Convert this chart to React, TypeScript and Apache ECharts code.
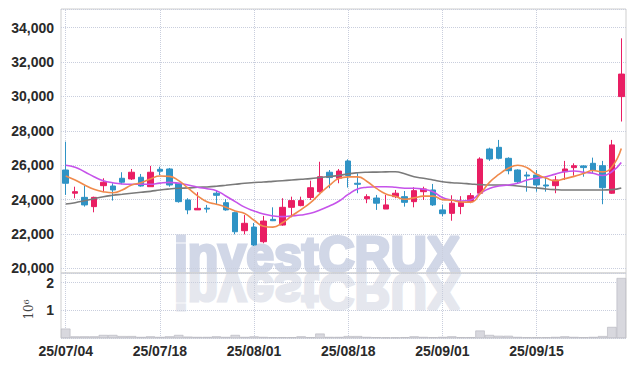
import React, { useEffect, useRef } from "react";
import * as echarts from "echarts";

const dates = [
  "25/07/04", "25/07/07", "25/07/08", "25/07/09", "25/07/10", "25/07/11", "25/07/14", "25/07/15", "25/07/16", "25/07/17",
  "25/07/18", "25/07/21", "25/07/22", "25/07/23", "25/07/24", "25/07/25", "25/07/28", "25/07/29", "25/07/30", "25/07/31",
  "25/08/01", "25/08/04", "25/08/05", "25/08/06", "25/08/07", "25/08/08", "25/08/11", "25/08/12", "25/08/13", "25/08/14",
  "25/08/18", "25/08/19", "25/08/20", "25/08/21", "25/08/22", "25/08/25", "25/08/26", "25/08/27", "25/08/28", "25/08/29",
  "25/09/01", "25/09/02", "25/09/03", "25/09/04", "25/09/05", "25/09/08", "25/09/09", "25/09/10", "25/09/11", "25/09/12",
  "25/09/15", "25/09/16", "25/09/17", "25/09/18", "25/09/19", "25/09/22", "25/09/23", "25/09/24", "25/09/25", "25/09/26",
];

const opens = [
  25720, 24370, 24130, 23590, 24810, 24790, 25240, 25200, 25300, 24750,
  25760, 25780, 24950, 23980, 23400, 23500, 24370, 23820, 23240, 22190,
  22400, 21550, 22850, 22520, 23550, 23650, 24120, 24460, 25590, 25240,
  26245, 24950, 24050, 24090, 23450, 24170, 24170, 23880, 24460, 24560,
  23400, 23200, 23600, 23880, 24370, 26940, 27040, 26400, 25720, 25430,
  25430, 24850, 24810, 25620, 25860, 25960, 26110, 25970, 24370, 29990,
];
const closes = [
  24950, 24460, 23690, 24130, 25010, 24560, 25010, 25590, 24790, 25590,
  25650, 24850, 23880, 23400, 23490, 23450, 24250, 23400, 22130, 22620,
  21360, 22750, 22770, 23550, 23940, 23940, 24690, 25330, 25280, 25660,
  25400, 24890, 24170, 23790, 23690, 24370, 23840, 24520, 24620, 23690,
  23180, 23790, 23850, 24230, 26360, 26360, 26400, 25680, 25040, 25370,
  24850, 24790, 25140, 25780, 25970, 25860, 25720, 24690, 27180, 31300,
];
const lows = [
  24270, 24075, 23590, 23260, 24430, 23940, 24890, 25140, 24750, 24750,
  25430, 24750, 23820, 23150, 23400, 23240, 23740, 23350, 21980, 21980,
  21300, 21460, 22750, 22480, 22970, 23610, 23980, 24400, 24660, 24950,
  24700, 24370, 23790, 23400, 23450, 24080, 23590, 23550, 23980, 23630,
  23030, 22770, 23150, 23790, 24370, 26250, 26340, 25470, 24930, 24460,
  24460, 24460, 24370, 25140, 25390, 25330, 25530, 23730, 24330, 28540,
];
const highs = [
  27370, 24750, 24790, 24170, 25240, 24950, 25590, 25780, 25490, 25960,
  25910, 25840, 24950, 24080, 24430, 23690, 24500, 24020, 23300, 23100,
  22640, 23050, 23550, 24080, 24170, 24170, 25100, 26200, 25720, 25780,
  26340, 25530, 24310, 24270, 24270, 24560, 24500, 24720, 24750, 24910,
  23700, 24250, 24200, 24380, 26460, 27020, 27470, 26460, 25760, 25620,
  25720, 25330, 25370, 26250, 26110, 26000, 26440, 26250, 27470, 33380,
];

const ma5 = [
  25373, 25140, 24850, 24600, 24460, 24400, 24560, 24850, 24983, 25200,
  25370, 25350, 25100, 24660, 24220, 23870, 23730, 23560, 23340, 23190,
  22800, 22450, 22400, 22650, 23050, 23420, 23820, 24350, 24820, 25220,
  25320, 25320, 25050, 24650, 24330, 24190, 24020, 24100, 24200, 24200,
  24000, 23960, 23860, 23850, 24330, 25000, 25460, 25820, 26000, 25850,
  25470, 25250, 25100, 25220, 25350, 25520, 25690, 25610, 25900, 26970,
];
const ma20 = [
  26000, 25880, 25620, 25330, 25100, 24980, 24910, 24890, 24890, 24890,
  24960, 25000, 24950, 24850, 24720, 24630, 24520, 24210, 23880, 23560,
  23340, 23160, 23050, 23010, 23050, 23100, 23200, 23390, 23630, 23900,
  24300, 24620, 24720, 24750, 24750, 24720, 24660, 24660, 24600, 24460,
  24120, 23980, 23920, 23980, 24360, 24650, 24790, 24850, 24950, 25140,
  25240, 25330, 25480, 25620, 25660, 25590, 25530, 25400, 25620, 26160,
];
const ma60 = [
  23744, 23820, 23936, 24050, 24170, 24250, 24310, 24370, 24425, 24480,
  24560, 24617, 24657, 24680, 24715, 24735, 24775, 24830, 24890, 24950,
  24990, 25020, 25060, 25100, 25140, 25180, 25220, 25280, 25340, 25400,
  25500, 25560, 25590, 25600, 25610, 25620, 25500, 25330, 25240, 25140,
  25040, 24980, 24950, 24910, 24870, 24850, 24850, 24830, 24790, 24730,
  24680, 24620, 24580, 24560, 24560, 24560, 24560, 24560, 24580, 24680,
];

const volumes = [
  340000, 60000, 60000, 60000, 110000, 110000, 70000, 70000, 40000, 60000,
  40000, 60000, 110000, 50000, 40000, 40000, 60000, 40000, 110000, 40000,
  60000, 40000, 30000, 30000, 30000, 60000, 30000, 160000, 40000, 40000,
  70000, 70000, 40000, 30000, 20000, 20000, 30000, 60000, 40000, 30000,
  40000, 60000, 30000, 30000, 270000, 110000, 80000, 80000, 40000, 30000,
  30000, 30000, 40000, 60000, 40000, 30000, 40000, 70000, 400000, 2170000,
];

const priceTicks = { min: 19730, max: 35085, splitNumber: 7 };
const volumeTicks = { min: 0, max: 2350000, interval: 1000000 };

const UP = "#e91e63";
const DOWN = "#2f93c5";
const GRIDLINE = "#c9cedd";
const LABEL_FONT = "'Liberation Sans Narrow', 'Arial Narrow', sans-serif";

export default function App() {
  const ref = useRef<HTMLDivElement>(null);

  useEffect(() => {
    if (!ref.current) return;
    const chart = echarts.init(ref.current, undefined, { renderer: "svg" });
    const candles = dates.map((_, i) => [opens[i], closes[i], lows[i], highs[i]]);
    const gridDates = dates.filter((_, i) => i % 10 === 0);
    const vLines = {
      silent: true,
      symbol: "none",
      z: 1,
      label: { show: false },
      emphasis: { disabled: true },
      lineStyle: { type: "dotted", color: GRIDLINE, width: 1 },
      data: gridDates.map((d) => ({ xAxis: d })),
    };
    const labelStyle = {
      color: "#2a2a2a",
      fontSize: 14,
      fontWeight: "bold",
      fontFamily: LABEL_FONT,
    };
    const wm = {
      text: "investCRUX",
      fontSize: 50,
      fontWeight: "bold",
      fontFamily: "'Liberation Sans', Arial, sans-serif",
      align: "center",
      verticalAlign: "middle",
      lineWidth: 3,
      lineJoin: "round",
    };

    chart.setOption({
      animation: false,
      backgroundColor: "#fff",
      graphic: [
        {
          type: "text",
          x: 317,
          y: 254.5,
          z: -10,
          silent: true,
          style: { ...wm, fill: "#d1d7e7", stroke: "#d1d7e7" },
        },
        {
          type: "text",
          x: 317,
          y: 291,
          scaleY: -1,
          z: -10,
          silent: true,
          style: { ...wm, fill: "#e5e7ee", stroke: "#e5e7ee" },
        },
      ],
      grid: [
        { left: 61, right: 8, top: 9, height: 264, show: true, borderColor: "#cfcfcf", borderWidth: 1, backgroundColor: "transparent" },
        { left: 61, right: 8, top: 273, height: 65, show: true, borderColor: "#cfcfcf", borderWidth: 1, backgroundColor: "transparent" },
      ],
      xAxis: [
        {
          type: "category",
          gridIndex: 0,
          data: dates,
          boundaryGap: true,
          axisLabel: { show: false },
          axisTick: { show: false },
          axisLine: { show: false },
          splitLine: { show: false },
        },
        {
          type: "category",
          gridIndex: 1,
          data: dates,
          boundaryGap: true,
          axisLabel: { ...labelStyle, interval: 9, margin: 6 },
          axisTick: { show: false },
          axisLine: { show: false },
          splitLine: { show: false },
        },
      ],
      yAxis: [
        {
          type: "value",
          gridIndex: 0,
          min: priceTicks.min,
          max: priceTicks.max,
          splitNumber: priceTicks.splitNumber,
          axisLine: { show: false },
          axisTick: { show: false },
          axisLabel: {
            ...labelStyle,
            lineHeight: 11,
            margin: 7,
            showMinLabel: false,
            showMaxLabel: false,
            formatter: (v: number) => v.toLocaleString("en-US"),
          },
          splitLine: { lineStyle: { type: "dotted", color: GRIDLINE } },
        },
        {
          type: "value",
          gridIndex: 1,
          min: volumeTicks.min,
          max: volumeTicks.max,
          interval: volumeTicks.interval,
          name: "10⁶",
          nameLocation: "middle",
          nameRotate: 90,
          nameGap: 20,
          nameTextStyle: { color: "#444", fontSize: 12, fontFamily: "'DejaVu Serif', serif", padding: [0, 8, 0, 0] },
          axisLine: { show: false },
          axisTick: { show: false },
          axisLabel: {
            ...labelStyle,
            lineHeight: 11,
            margin: 7,
            showMinLabel: false,
            showMaxLabel: false,
            formatter: (v: number) => String(v / 1000000),
          },
          splitLine: { lineStyle: { type: "dotted", color: GRIDLINE } },
        },
      ],
      series: [
        {
          type: "candlestick",
          xAxisIndex: 0,
          yAxisIndex: 0,
          data: candles,
          barWidth: 6,
          z: 2,
          itemStyle: { color: UP, color0: DOWN, borderColor: UP, borderColor0: DOWN, borderWidth: 1 },
          markLine: vLines,
        },
        {
          type: "line",
          xAxisIndex: 0,
          yAxisIndex: 0,
          data: ma60,
          smooth: true,
          symbol: "none",
          z: 3,
          lineStyle: { color: "#7a7a7a", width: 1.6 },
        },
        {
          type: "line",
          xAxisIndex: 0,
          yAxisIndex: 0,
          data: ma20,
          smooth: true,
          symbol: "none",
          z: 3,
          lineStyle: { color: "#c653ea", width: 1.6 },
        },
        {
          type: "line",
          xAxisIndex: 0,
          yAxisIndex: 0,
          data: ma5,
          smooth: true,
          symbol: "none",
          z: 3,
          lineStyle: { color: "#f08a4b", width: 1.6 },
        },
        {
          type: "bar",
          xAxisIndex: 1,
          yAxisIndex: 1,
          data: volumes,
          barCategoryGap: "0%",
          z: 2,
          itemStyle: { color: "#d8d8de", borderColor: "#b4b4bc", borderWidth: 0.6 },
          markLine: vLines,
        },
      ],
    });
    return () => chart.dispose();
  }, []);

  return (
    <div
      ref={ref}
      style={{ position: "fixed", left: 0, top: 0, width: 634, height: 366 }}
    />
  );
}
